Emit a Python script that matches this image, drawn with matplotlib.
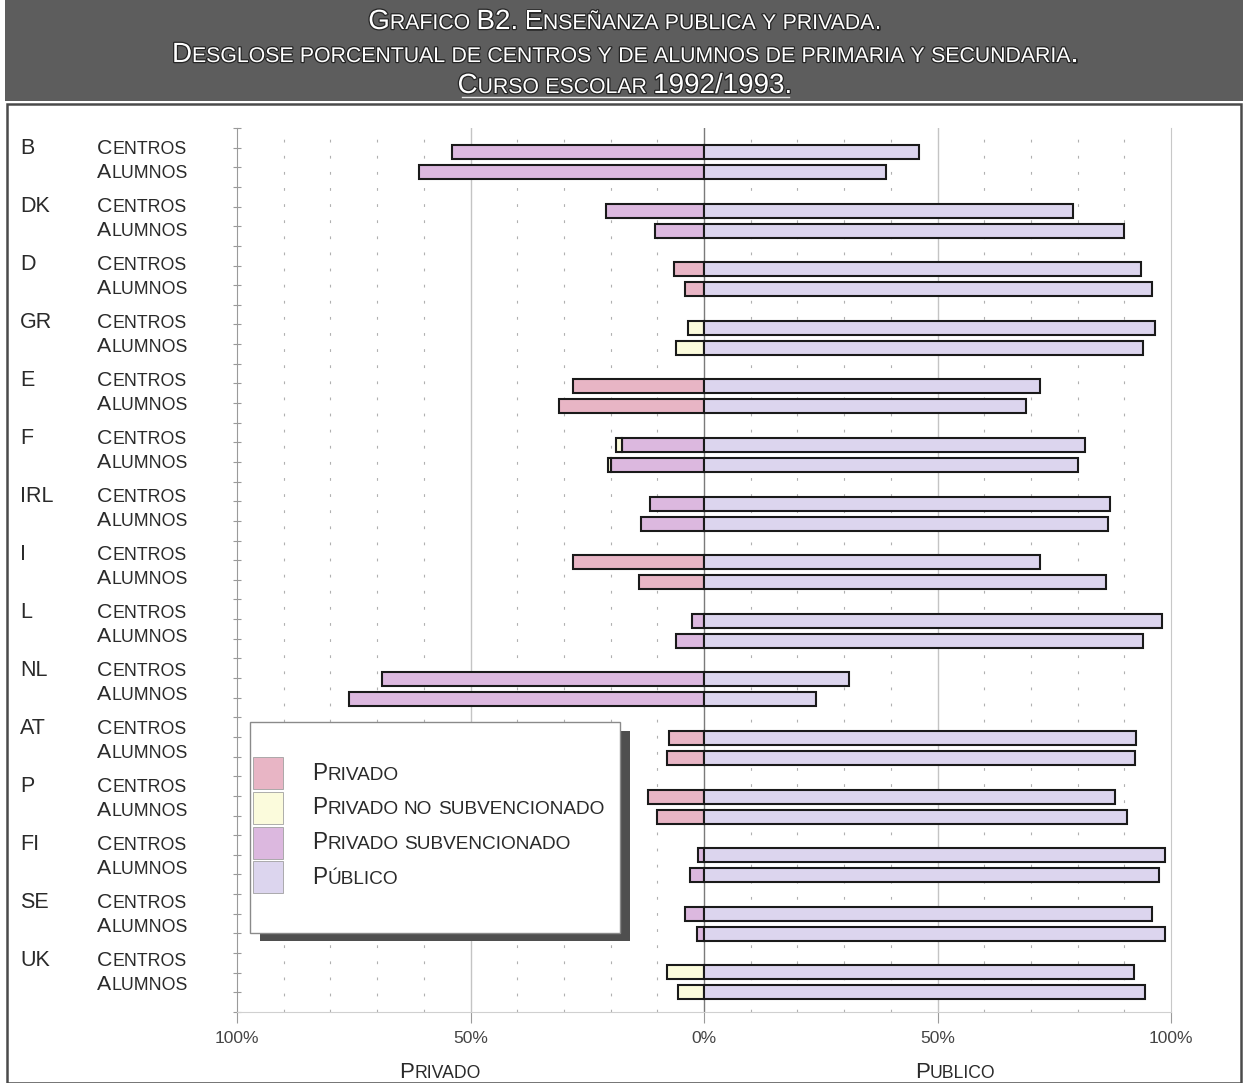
import numpy as np
import matplotlib
matplotlib.use('Agg')
import matplotlib.pyplot as plt
from matplotlib.patches import Rectangle
from matplotlib.lines import Line2D
from matplotlib.offsetbox import TextArea, HPacker, AnnotationBbox
import matplotlib.patheffects as pe

W, H = 1243, 1083

# ---------------- data ----------------
countries = ['B', 'DK', 'D', 'GR', 'E', 'F', 'IRL', 'I', 'L', 'NL', 'AT', 'P', 'FI', 'SE', 'UK']
privado_centros = np.array([0, 0, 6.5, 0, 28, 0, 0, 28, 0, 0, 7.5, 12, 0, 0, 0])
privado_alumnos = np.array([0, 0, 4, 0, 31, 0, 0, 14, 0, 0, 8, 10, 0, 0, 0])
nosubv_centros = np.array([0, 0, 0, 3.5, 0, 1.3, 0, 0, 0, 0, 0, 0, 0, 0, 8])
nosubv_alumnos = np.array([0, 0, 0, 6, 0, 0.5, 0, 0, 0, 0, 0, 0, 0, 0, 5.5])
subv_centros = np.array([54, 21, 0, 0, 0, 17.5, 11.5, 0, 2.5, 69, 0, 0, 1.3, 4, 0])
subv_alumnos = np.array([61, 10.5, 0, 0, 0, 20, 13.5, 0, 6, 76, 0, 0, 3, 1.5, 0])
publico_centros = np.array([46, 79, 93.5, 96.5, 72, 81.5, 87, 72, 98, 31, 92.5, 88, 98.7, 96, 92])
publico_alumnos = np.array([39, 90, 96, 94, 69, 80, 86.5, 86, 94, 24, 92.3, 90.5, 97.5, 98.7, 94.5])
row_labels = ['Centros', 'Alumnos']
legend_labels = ['Privado', 'Privado no subvencionado', 'Privado subvencionado', 'Público']
tick_vals = [-100, -50, 0, 50, 100]
tick_labels = ['100%', '50%', '0%', '50%', '100%']
title_lines = ['Grafico B2. Enseñanza publica y privada.',
               'Desglose porcentual de centros y de alumnos de primaria y secundaria.',
               'Curso escolar 1992/1993.']

C_PRIV = '#E8B5C5'
C_NOSUB = '#FBFBDC'
C_SUB = '#DCB8DF'
C_PUB = '#DCD5EE'
EDGE = '#1a1a1a'
TXT = '#2a2a2a'
FAM = ['Liberation Sans', 'DejaVu Sans']
NARROW = ['Liberation Sans Narrow', 'Liberation Sans', 'DejaVu Sans']

fig = plt.figure(figsize=(W / 100, H / 100), dpi=100)


def fx(x):
    return x / W


def fy(y):
    return 1 - y / H


def smallcaps(text, x, y, big, small, color=TXT, family=FAM, align=(0.5, 0.5),
              effects=None, zorder=6):
    words = text.split(' ')
    wboxes = []
    for w in words:
        runs = []
        for ch in w:
            isbig = not ch.islower()
            c = ch.upper()
            if runs and runs[-1][1] == isbig:
                runs[-1][0] += c
            else:
                runs.append([c, isbig])
        areas = []
        for r, b in runs:
            tp = dict(fontsize=big if b else small, color=color, family=family)
            if effects:
                tp['path_effects'] = effects
            areas.append(TextArea(r, textprops=tp))
        wboxes.append(HPacker(children=areas, pad=0, sep=0, align='baseline'))
    box = HPacker(children=wboxes, pad=0, sep=small * 0.3, align='baseline')
    ab = AnnotationBbox(box, (x, H - y), xycoords='figure pixels', box_alignment=align,
                        frameon=False, pad=0, zorder=zorder, annotation_clip=False)
    fig.add_artist(ab)
    return ab


# ---------------- background: banner and panel ----------------
fig.add_artist(Rectangle((fx(5), fy(101)), fx(1238), 101 / H, transform=fig.transFigure,
                         facecolor='#5d5d5d', edgecolor='none', zorder=0))
fig.add_artist(Rectangle((fx(7), fy(1083)), fx(1234), (1083 - 104) / H, transform=fig.transFigure,
                         facecolor='white', edgecolor='#4a4a4a', linewidth=1.8, zorder=0))

title_y = [22, 55, 86]
shadow = [pe.withStroke(linewidth=1.8, foreground='#262626')]
for t, yy in zip(title_lines, title_y):
    smallcaps(t, 625, yy, 20, 15.3, color='white', family=NARROW, effects=shadow)
fig.add_artist(Line2D([fx(462), fx(789)], [fy(97), fy(97)], transform=fig.transFigure,
                      color='#e8e8e8', linewidth=1.0, zorder=6))

# ---------------- axes ----------------
ax = fig.add_axes([fx(237), fy(1012), fx(1171 - 237), (1012 - 128) / H])
ax.set_zorder(1)
ax.patch.set_alpha(0)

n = len(countries)
pitch_px = 58.6
yc = np.arange(n, dtype=float)
ya = yc + 20 / pitch_px
bh = 14 / pitch_px


def draw(y, width, left, color):
    m = width != 0
    ax.barh(y[m], width[m], left=left[m], height=bh, color=color,
            edgecolor=EDGE, linewidth=1.5, zorder=3)


for y, priv, nos, sub, pub in [(yc, privado_centros, nosubv_centros, subv_centros, publico_centros),
                               (ya, privado_alumnos, nosubv_alumnos, subv_alumnos, publico_alumnos)]:
    zero = np.zeros(n)
    draw(y, -priv, zero, C_PRIV)
    draw(y, -sub, -priv, C_SUB)
    draw(y, -nos, -(priv + sub), C_NOSUB)
    draw(y, pub, zero, C_PUB)

ax.set_xlim(-100, 100)
ytop = -24 / pitch_px
ybot = 860 / pitch_px
ax.set_ylim(ybot, ytop)

for v in range(-90, 100, 10):
    if v in (-50, 0, 50):
        continue
    ax.axvline(v, color='#b0b0b0', linewidth=0.8, linestyle=(0, (2.5, 12)), zorder=1)
for v in (-50, 50):
    ax.axvline(v, color='#c4c4c4', linewidth=1.0, zorder=1)
ax.axvline(0, color='#7a7a7a', linewidth=1.0, zorder=2)

ax.spines['top'].set_visible(False)
ax.spines['left'].set_color('#9a9a9a')
ax.spines['right'].set_color('#c8c8c8')
ax.spines['bottom'].set_color('#d0d0d0')
ax.set_yticks(np.linspace(ytop, ybot, 46))
ax.tick_params(axis='y', left=True, direction='inout', length=6, color='#9a9a9a',
               labelleft=False)
ax.set_xticks(tick_vals)
ax.set_xticklabels(tick_labels, family=NARROW, fontsize=12.5, color='#444444')
ax.tick_params(axis='x', direction='out', length=8, color='#9a9a9a', pad=6)

# ---------------- row labels ----------------
for i, c in enumerate(countries):
    yl = 148 + 58 * i
    fig.text(fx(20), fy(yl), c, fontsize=15.5, family=FAM, color=TXT, ha='left', va='center')
    smallcaps(row_labels[0], 97, yl, 15.3, 12.8, align=(0, 0.5))
    smallcaps(row_labels[1], 97, yl + 24.5, 15.3, 12.8, align=(0, 0.5))

# ---------------- legend ----------------
fig.add_artist(Rectangle((fx(260), fy(941)), fx(370), (941 - 731) / H, transform=fig.transFigure,
                         facecolor='#4f4f4f', edgecolor='none', zorder=4))
fig.add_artist(Rectangle((fx(250), fy(933)), fx(370), (933 - 722) / H, transform=fig.transFigure,
                         facecolor='white', edgecolor='#8a8a8a', linewidth=1.0, zorder=4))
leg_colors = [C_PRIV, C_NOSUB, C_SUB, C_PUB]
for k, (lab, col) in enumerate(zip(legend_labels, leg_colors)):
    y0 = 757 + 34.8 * k
    fig.add_artist(Rectangle((fx(253), fy(y0 + 32)), fx(30), 32 / H, transform=fig.transFigure,
                             facecolor=col, edgecolor='#a0a0a0', linewidth=0.6, zorder=5))
    smallcaps(lab, 312, y0 + 16, 16.3, 13.7, align=(0, 0.5))

# ---------------- bottom labels ----------------
smallcaps('Privado', 440, 1072, 16, 12.7)
smallcaps('Publico', 955, 1072, 16, 12.7)

fig.savefig('out.png', dpi=100)
